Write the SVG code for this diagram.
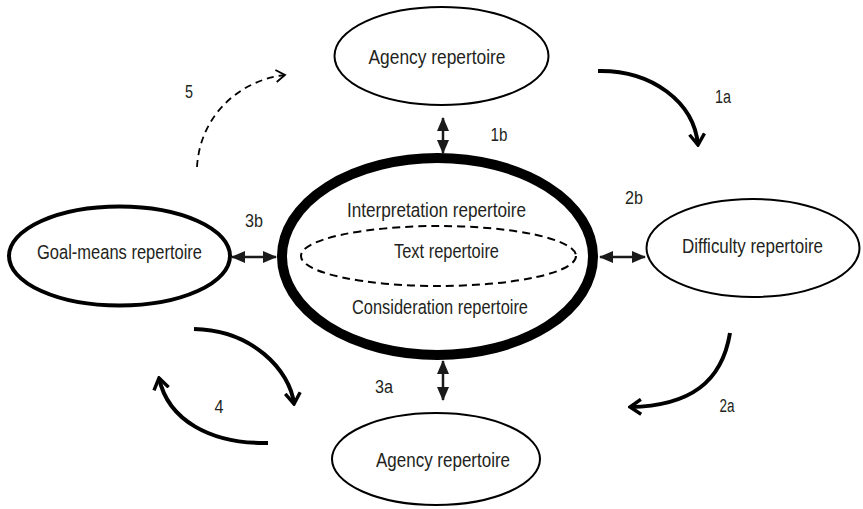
<svg xmlns="http://www.w3.org/2000/svg" width="863" height="509" viewBox="0 0 863 509">
  <style>
    .lbl { font-family: "Liberation Sans", Arial, sans-serif; font-size: 20.5px; fill: #231f20; text-anchor: middle; }
    .num { font-family: "Liberation Sans", Arial, sans-serif; font-size: 18px; fill: #231f20; text-anchor: middle; }
    .node { fill: #fff; stroke: #000; }
    .dbl { stroke: #1a1a1a; stroke-width: 2.5; fill: none; marker-start: url(#tri); marker-end: url(#tri); }
    .curve { stroke: #000; stroke-width: 4; fill: none; marker-end: url(#chev); }
  </style>
  <defs>
    <marker id="tri" viewBox="0 0 14 12" refX="13" refY="6" markerWidth="14" markerHeight="12" markerUnits="userSpaceOnUse" orient="auto-start-reverse">
      <path d="M0,0 L14,6 L0,12 Z" fill="#1a1a1a"/>
    </marker>
    <marker id="chev" viewBox="0 0 14 18" refX="12" refY="9" markerWidth="14" markerHeight="18" markerUnits="userSpaceOnUse" orient="auto">
      <path d="M1,1.5 L12,9 L1,16.5" fill="none" stroke="#000" stroke-width="3.4"/>
    </marker>
    <marker id="chevThin" viewBox="0 0 12 14" refX="10" refY="7" markerWidth="12" markerHeight="14" markerUnits="userSpaceOnUse" orient="auto">
      <path d="M1,1 L10,7 L1,13" fill="none" stroke="#000" stroke-width="1.8"/>
    </marker>
  </defs>
  <rect width="863" height="509" fill="#fff"/>

  <g id="agency-top">
    <ellipse class="node" cx="441.5" cy="56" rx="107" ry="49" stroke-width="2"/>
    <text class="lbl" x="437" y="64" textLength="137" lengthAdjust="spacingAndGlyphs">Agency repertoire</text>
  </g>

  <g id="central">
    <ellipse class="node" cx="437.5" cy="256.5" rx="155.5" ry="98.5" stroke-width="10"/>
    <ellipse cx="438.5" cy="256" rx="137.5" ry="30" fill="none" stroke="#000" stroke-width="2" stroke-dasharray="8,5"/>
    <text class="lbl" x="436.5" y="217" textLength="179" lengthAdjust="spacingAndGlyphs">Interpretation repertoire</text>
    <text class="lbl" x="446.5" y="258" textLength="105" lengthAdjust="spacingAndGlyphs">Text repertoire</text>
    <text class="lbl" x="440" y="314" textLength="176" lengthAdjust="spacingAndGlyphs">Consideration repertoire</text>
  </g>

  <g id="goal-means">
    <ellipse class="node" cx="119.5" cy="256" rx="110.5" ry="49.5" stroke-width="4"/>
    <text class="lbl" x="119.5" y="259" textLength="165" lengthAdjust="spacingAndGlyphs">Goal-means repertoire</text>
  </g>

  <g id="difficulty">
    <ellipse class="node" cx="753" cy="248" rx="106.5" ry="49" stroke-width="2"/>
    <text class="lbl" x="752.5" y="253" textLength="141" lengthAdjust="spacingAndGlyphs">Difficulty repertoire</text>
  </g>

  <g id="agency-bottom">
    <ellipse class="node" cx="436" cy="459" rx="104" ry="46" stroke-width="2"/>
    <text class="lbl" x="443" y="467" textLength="134" lengthAdjust="spacingAndGlyphs">Agency repertoire</text>
  </g>

  <g id="connectors">
    <!-- two-way links to the central repertoire -->
    <line class="dbl" x1="443" y1="118" x2="443" y2="153"/>
    <line class="dbl" x1="232" y1="257" x2="276" y2="257"/>
    <line class="dbl" x1="600" y1="257" x2="645" y2="257"/>
    <line class="dbl" x1="443" y1="361" x2="443" y2="400"/>

    <!-- curved flows -->
    <path class="curve" d="M598,71 C652,70 694,102 698,145"/>
    <path class="curve" d="M730,333 C722,382 690,406 630,407"/>
    <path class="curve" d="M194,329 C252,330 290,370 294,404"/>
    <path class="curve" d="M268,443 C210,444 168,420 159,378"/>
    <path d="M197,167 C200,115 240,80 285,75" fill="none" stroke="#000" stroke-width="1.8" stroke-dasharray="7,5" marker-end="url(#chevThin)"/>

    <text class="num" x="723" y="103" textLength="16" lengthAdjust="spacingAndGlyphs">1a</text>
    <text class="num" x="499" y="141" textLength="17" lengthAdjust="spacingAndGlyphs">1b</text>
    <text class="num" x="634" y="204" textLength="18" lengthAdjust="spacingAndGlyphs">2b</text>
    <text class="num" x="727" y="412" textLength="15" lengthAdjust="spacingAndGlyphs">2a</text>
    <text class="num" x="254" y="227" textLength="18" lengthAdjust="spacingAndGlyphs">3b</text>
    <text class="num" x="384" y="393" textLength="18" lengthAdjust="spacingAndGlyphs">3a</text>
    <text class="num" x="219" y="413" textLength="9" lengthAdjust="spacingAndGlyphs">4</text>
    <text class="num" x="189" y="98" textLength="8" lengthAdjust="spacingAndGlyphs">5</text>
  </g>
</svg>
